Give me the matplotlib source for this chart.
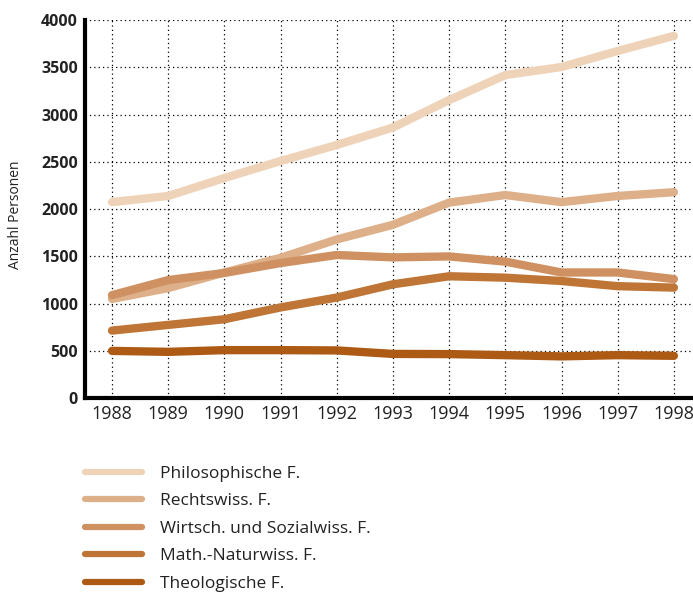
#!/usr/bin/env python3
"""Line chart of persons per faculty 1988-1998"""
import matplotlib.pyplot as plt

years = [1988, 1989, 1990, 1991, 1992, 1993, 1994, 1995, 1996, 1997, 1998]
philosophische = [2075, 2140, 2330, 2510, 2680, 2865, 3155, 3420, 3505, 3675, 3835]
rechtswiss = [1050, 1165, 1330, 1485, 1680, 1835, 2070, 2150, 2075, 2140, 2180]
wirtsch = [1090, 1250, 1325, 1430, 1515, 1490, 1500, 1445, 1330, 1330, 1260]
math_natur = [715, 775, 835, 960, 1065, 1205, 1290, 1275, 1240, 1185, 1170]
theologische = [500, 490, 508, 508, 505, 468, 466, 455, 442, 455, 448]

labels = ['Philosophische F.', 'Rechtswiss. F.', 'Wirtsch. und Sozialwiss. F.',
          'Math.-Naturwiss. F.', 'Theologische F.']
colors = ['#eed3b9', '#deb08a', '#cf9162', '#be7536', '#ad5a14']
series = [philosophische, rechtswiss, wirtsch, math_natur, theologische]

plt.rcParams['font.family'] = ['Open Sans', 'DejaVu Sans']

fig = plt.figure(figsize=(6.93, 5.96), dpi=100)
ax = fig.add_axes([0.1227, 0.332, 0.8773, 0.634])

for vals, col, lab in zip(series, colors, labels):
    ax.plot(years, vals, color=col, lw=6, solid_capstyle='round',
            solid_joinstyle='round', label=lab)

ax.set_xlim(1987.52, 1998.34)
ax.set_ylim(0, 4000)
ax.set_xticks(years)
ax.set_yticks(range(0, 4001, 500))
ax.grid(True, linestyle=(0, (1, 2.5)), color='black', lw=0.9)
ax.set_axisbelow(True)

for s in ['top', 'right']:
    ax.spines[s].set_visible(False)
ax.spines['left'].set_linewidth(3)
ax.spines['bottom'].set_linewidth(3)

ax.tick_params(length=0)
ax.tick_params(axis='y', pad=5, labelsize=11.5)
ax.tick_params(axis='x', pad=5, labelsize=13)
for t in ax.get_yticklabels():
    t.set_fontweight('bold')
    t.set_color('#222222')
for t in ax.get_xticklabels():
    t.set_color('#222222')

fig.text(0.022, 0.639, 'Anzahl Personen', rotation=90, ha='center',
         va='center', fontsize=10, color='#222222')

handles, labs = ax.get_legend_handles_labels()
leg = fig.legend(handles, labs, loc='upper left', bbox_to_anchor=(0.122, 0.219),
                 frameon=False, fontsize=12.5, handlelength=3.3,
                 handletextpad=1.05, labelspacing=0.66, borderaxespad=0,
                 borderpad=0)
for h in leg.get_lines():
    h.set_linewidth(4.5)
    h.set_solid_capstyle('round')
for t in leg.get_texts():
    t.set_color('#222222')

fig.savefig('out.png', dpi=100)
